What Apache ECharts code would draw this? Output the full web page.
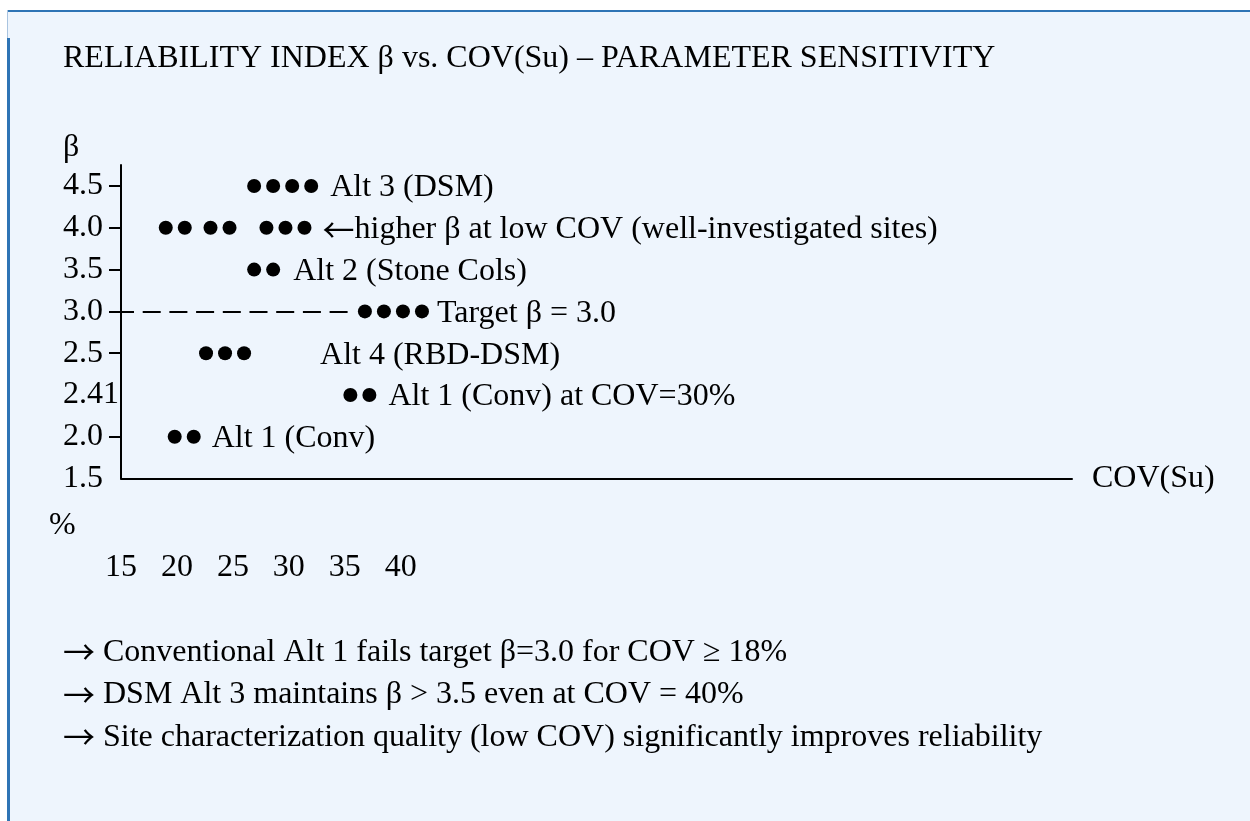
<!DOCTYPE html>
<html>
<head>
<meta charset="utf-8">
<script src="https://cdn.jsdelivr.net/npm/echarts@6/dist/echarts.min.js"></script>
<style>
  html, body { margin: 0; padding: 0; background: #ffffff; }
  #box { position: absolute; left: 7px; top: 10px; width: 1243px; height: 811px;
         background: #eef5fd; border-top: 2px solid #2e74b5; box-sizing: border-box; }
  #edgeThin { position: absolute; left: 7px; top: 10px; width: 1px; height: 28px; background: #a9c4e0; }
  #edge { position: absolute; left: 7px; top: 38px; width: 3px; height: 783px; background: #2e74b5; }
  #chart { position: absolute; left: 0; top: 0; width: 1250px; height: 821px; }
</style>
</head>
<body>
<div id="box"></div>
<div id="edgeThin"></div>
<div id="edge"></div>
<div id="chart"></div>
<script>
// beta rows, bottom to top
var rowLabels = ['1.5', '2.0', '2.41', '2.5', '3.0', '3.5', '4.0', '4.5'];
// COV(Su) % tick labels
var covTicks = [15, 20, 25, 30, 35, 40];

// dot positions (COV %) for each row
var alt3Dots = [26.9, 28.6, 30.3, 32.0];                         // 4.5
var lowCovDots = [19.0, 20.7, 23.0, 24.7, 28.0, 29.7, 31.4];    // 4.0
var alt2Dots = [26.9, 28.6];                                     // 3.5
var targetDots = [36.8, 38.5, 40.2, 41.9];                       // 3.0
var alt4Dots = [22.6, 24.3, 26.0];                               // 2.5
var alt1At30Dots = [35.5, 37.2];                                 // 2.41
var alt1Dots = [19.8, 21.5];                                     // 2.0

// dashed target line along the 3.0 row
var targetLine = [15, 35.5];

var notes = [
    'Conventional Alt 1 fails target \u03b2=3.0 for COV \u2265 18%',
    'DSM Alt 3 maintains \u03b2 > 3.5 even at COV = 40%',
    'Site characterization quality (low COV) significantly improves reliability'
];

var FONT = "'Liberation Serif', 'Times New Roman', serif";
var textBase = { fontFamily: FONT, fontSize: 32, fontWeight: 'normal', color: '#000' };

// thin, full-width arrows like the original's
function arrowStyle(lh) {
    return { fontFamily: "'Noto Sans CJK JP'", fontSize: 32, color: '#000', lineHeight: lh };
}

function makeRow(name, row, xs, text, gap) {
    var data = xs.map(function (x, i) {
        var item = { value: [x, row] };
        if (i === xs.length - 1) {
            item.label = {
                show: true,
                position: 'right',
                distance: gap,
                formatter: text
            };
        }
        return item;
    });
    return {
        name: name,
        type: 'scatter',
        xAxisIndex: 0,
        yAxisIndex: 0,
        symbol: 'circle',
        symbolSize: 14,
        itemStyle: { color: '#000', opacity: 1 },
        label: Object.assign({
            show: false,
            padding: [4, 0, 0, 0],
            rich: { a: arrowStyle(32) }
        }, textBase),
        emphasis: { disabled: true },
        data: data
    };
}

var series = [
    makeRow('Alt 3', '4.5', alt3Dots, 'Alt 3 (DSM)', 12),
    makeRow('Low COV', '4.0', lowCovDots, '{a|\u2190}higher \u03b2 at low COV (well-investigated sites)', 11),
    makeRow('Alt 2', '3.5', alt2Dots, 'Alt 2 (Stone Cols)', 13),
    makeRow('Target', '3.0', targetDots, 'Target \u03b2 = 3.0', 8),
    makeRow('Alt 4', '2.5', alt4Dots, 'Alt 4 (RBD-DSM)', 69),
    makeRow('Alt 1 30', '2.41', alt1At30Dots, 'Alt 1 (Conv) at COV=30%', 12),
    makeRow('Alt 1', '2.0', alt1Dots, 'Alt 1 (Conv)', 11)
];

// dashed line for target beta
series[3].markLine = {
    silent: true,
    symbol: 'none',
    label: { show: false },
    lineStyle: { color: '#000', width: 2, type: [18, 8.7], dashOffset: 5 },
    data: [[{ coord: [targetLine[0], '3.0'] }, { coord: [targetLine[1], '3.0'] }]]
};

var chart = echarts.init(document.getElementById('chart'));

var option = {
    backgroundColor: 'transparent',
    animation: false,
    title: [
        {
            text: 'RELIABILITY INDEX \u03b2 vs. COV(Su) \u2013 PARAMETER SENSITIVITY',
            left: 63, top: 38, padding: 0,
            textStyle: Object.assign({ lineHeight: 42 }, textBase)
        },
        {
            text: '\u03b2',
            left: 63, top: 127, padding: 0,
            textStyle: Object.assign({ lineHeight: 42 }, textBase)
        },
        {
            text: '%',
            left: 49, top: 505, padding: 0,
            textStyle: Object.assign({ lineHeight: 42 }, textBase)
        },
        {
            text: notes.map(function (n) { return '{a|\u2192} ' + n; }).join('\n'),
            left: 63, top: 631, padding: 0,
            textStyle: Object.assign({ lineHeight: 42.5, rich: { a: arrowStyle(42.5) } }, textBase)
        }
    ],
    grid: [
        { left: 121, right: 178, top: 186, bottom: 342.4 },
        { left: 121, right: 178, top: 165, bottom: 342.4 }
    ],
    xAxis: [
        {
            gridIndex: 0,
            type: 'value',
            min: 15,
            max: 100,
            interval: 5,
            name: 'COV(Su)',
            nameLocation: 'end',
            nameGap: 20,
            nameTextStyle: Object.assign({ padding: [6, 0, 0, 0] }, textBase),
            axisLine: { show: true, lineStyle: { color: '#000', width: 2 } },
            axisTick: { show: false },
            splitLine: { show: false },
            axisLabel: Object.assign({
                margin: 73,
                lineHeight: 32,
                formatter: function (v) { return covTicks.indexOf(v) >= 0 ? String(v) : ''; }
            }, textBase)
        },
        { gridIndex: 1, type: 'value', show: false }
    ],
    yAxis: [
        {
            gridIndex: 0,
            type: 'category',
            boundaryGap: false,
            data: rowLabels,
            axisLine: { show: false },
            axisTick: {
                show: true,
                length: 12,
                // no left stub on the 1.5 corner or the tight 2.41 row
                interval: function (idx, val) { return val !== '1.5' && val !== '2.41'; },
                lineStyle: { color: '#000', width: 2 }
            },
            splitLine: { show: false },
            axisLabel: Object.assign({ margin: 58, align: 'left', interval: 0, padding: [4, 0, 0, 0] }, textBase)
        },
        {
            gridIndex: 1,
            type: 'value',
            axisLine: { show: true, onZero: false, lineStyle: { color: '#000', width: 2 } },
            axisTick: { show: false },
            axisLabel: { show: false },
            splitLine: { show: false }
        }
    ],
    series: series
};

chart.setOption(option);

window.addEventListener('resize', function () {
    chart.resize();
});
</script>
</body>
</html>
